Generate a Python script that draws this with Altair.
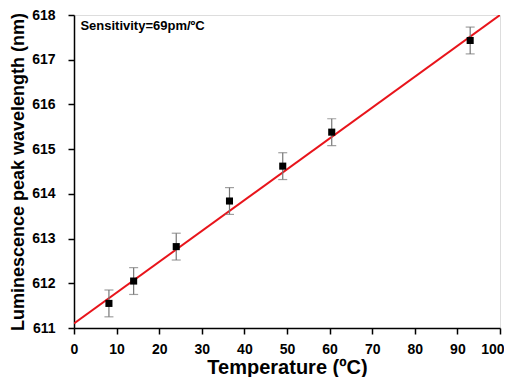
import altair as alt
import pandas as pd

temps = [8.2, 14.0, 24.0, 36.5, 49.0, 60.5, 93.0]
waves = [611.55, 612.05, 612.82, 613.84, 614.62, 615.38, 617.43]
errs = [0.3, 0.3, 0.3, 0.3, 0.3, 0.3, 0.3]
fit_x = [0, 100]
fit_y = [611.1, 618.0]
x_ticks = [v * 5 for v in range(21)]
y_ticks = [611 + v * 0.5 for v in range(15)]

df = pd.DataFrame({"t": temps, "w": waves, "e": errs})
df["lo"] = df["w"] - df["e"]
df["hi"] = df["w"] + df["e"]
fit = pd.DataFrame({"t": fit_x, "w": fit_y})

FONT = "Liberation Sans"

xscale = alt.Scale(domain=[0, 100], nice=False)
yscale = alt.Scale(domain=[611, 618], nice=False, zero=False)

xaxis = alt.Axis(
    title="Temperature (ºC)", values=x_ticks, grid=False,
    labelExpr="datum.value % 10 === 0 ? datum.label : ''",
    labelOverlap=False, labelFlush=False, labelFont=FONT, labelFontSize=14,
    labelFontWeight="bold", labelColor="black", titleFont=FONT, titleFontSize=20,
    titleFontWeight="bold", titleColor="black", domainColor="black", domainWidth=1.5,
    tickColor="black", tickWidth=1.5,
    tickSize={"condition": {"test": "datum.value % 10 === 0", "value": 6}, "value": 3},
    labelAlign={"condition": {"test": "datum.value === 100", "value": "right"}, "value": "center"},
    labelOffset={"condition": {"test": "datum.value === 100", "value": 4}, "value": 0},
    labelPadding=8, titlePadding=1,
)
yaxis = alt.Axis(
    title="Luminescence peak wavelength (nm)", values=y_ticks, grid=False,
    labelExpr="datum.value % 1 === 0 ? datum.label : ''",
    labelOverlap=False, labelFlush=False, labelFont=FONT, labelFontSize=14,
    labelFontWeight="bold", labelColor="black", titleFont=FONT, titleFontSize=18,
    titleFontWeight="bold", titleColor="black", domainColor="black", domainWidth=1.5,
    tickColor="black", tickWidth=1.5,
    tickSize={"condition": {"test": "datum.value % 1 === 0", "value": 6}, "value": 3},
    labelPadding=13, titlePadding=4,
)

base = alt.Chart(df)

line = alt.Chart(fit).mark_line(color="#e8141b", strokeWidth=2, clip=True).encode(
    x=alt.X("t:Q", scale=xscale, axis=xaxis),
    y=alt.Y("w:Q", scale=yscale, axis=yaxis),
)

bars = base.mark_rule(color="#777777", strokeWidth=1.2).encode(
    x="t:Q", y="lo:Q", y2="hi:Q"
)
cap_lo = base.mark_tick(color="#777777", thickness=1.2, size=9, orient="horizontal").encode(
    x="t:Q", y="lo:Q"
)
cap_hi = base.mark_tick(color="#777777", thickness=1.2, size=9, orient="horizontal").encode(
    x="t:Q", y="hi:Q"
)
pts = base.mark_square(color="black", opacity=1, filled=True, size=50).encode(
    x="t:Q", y="w:Q"
)

label = alt.Chart(pd.DataFrame({"t": [1.5], "w": [617.76], "s": ["Sensitivity=69pm/ºC"]})).mark_text(
    align="left", baseline="middle", font=FONT, fontSize=13, fontWeight="bold", color="black"
).encode(x="t:Q", y="w:Q", text="s:N")

chart = alt.layer(line, bars, cap_lo, cap_hi, pts, label).properties(
    width=426, height=313,
    autosize=alt.AutoSizeParams(type="none"),
    padding={"left": 66, "top": 7, "right": 4, "bottom": 49},
).configure_view(stroke="black", strokeWidth=1.5).configure(background="white")

chart.save("out.html", embed_options={"renderer": "svg", "actions": False})
